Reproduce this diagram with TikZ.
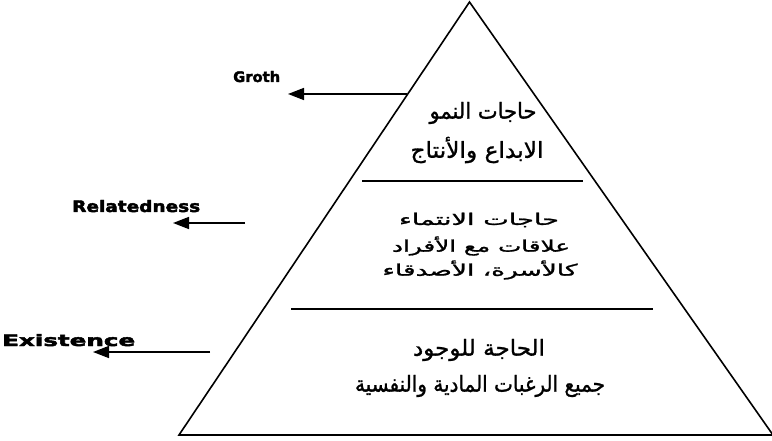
\documentclass[tikz,border=0pt]{standalone}
\usepackage{fontspec}
\setmainfont{DejaVu Sans}
\newfontfamily\arabicfont[Script=Arabic,FakeBold=1.2]{DejaVu Sans}
\newfontfamily\heavyfont[FakeBold=2.5]{DejaVu Sans Bold}
\TeXXeTstate=1
\usetikzlibrary{arrows.meta}
\newcommand{\arsize}[1]{\fontsize{#1}{#1}\arabicfont}
\newcommand{\fitw}[2]{\resizebox{#1pt}{\height}{#2}}
\newcommand{\fitwh}[3]{\resizebox{#1pt}{#2pt}{#3}}
\begin{document}
\begin{tikzpicture}[x=1pt,y=-1pt,
  edge/.style={line width=1.6pt,line join=miter},
  divider/.style={line width=1.5pt},
  arr/.style={line width=1.6pt,-{Triangle[length=16pt,width=12pt]}},
  lab/.style={inner sep=0pt,font=\heavyfont},
  artxt/.style={inner sep=0pt}]
\useasboundingbox (0,0) rectangle (772,441);
\fill[white] (0,0) rectangle (772,441);
% pyramid
\coordinate (A) at (469.5,2);
\coordinate (BL) at (179,435);
\coordinate (BR) at (773,435);
\draw[edge] (A) -- (BL) -- (BR) -- cycle;
% dividers
\coordinate (d1l) at (362,181);
\coordinate (d1r) at (583,181);
\coordinate (d2l) at (291,309);
\coordinate (d2r) at (653,309);
\draw[divider] (d1l) -- (d1r);
\draw[divider] (d2l) -- (d2r);
% top level
\node[artxt] (t1) at (483,113) {\fitw{107}{\arsize{22}\beginR حاجات النمو\endR}};
\node[artxt] (t2) at (477,150) {\fitw{133}{\arsize{22}\beginR الابداع والأنتاج\endR}};
% middle level
\node[artxt] (m1) at (479,220) {\fitw{160}{\arsize{16}\beginR حاجات الانتماء\endR}};
\node[artxt] (m2) at (481,246) {\fitw{178}{\arsize{16}\beginR علاقات مع الأفراد\endR}};
\node[artxt] (m3) at (480,270) {\fitw{195}{\arsize{16}\beginR كالأسرة، الأصدقاء\endR}};
% bottom level
\node[artxt] (b1) at (479,350) {\fitw{132}{\arsize{22}\beginR الحاجة للوجود\endR}};
\node[artxt] (b2) at (480,386) {\fitw{250}{\arsize{22}\beginR جميع الرغبات المادية والنفسية\endR}};
% labels
\node[lab,anchor=base west] (groth) at (233,82) {\fitwh{47}{11}{Groth}};
\node[lab,anchor=base west] (rel) at (72,212) {\fitwh{128}{12}{Relatedness}};
\node[lab,anchor=base west] (exi) at (2,346) {\fitwh{133}{12}{Existence}};
% arrows
\coordinate (gtail) at (407,94);
\coordinate (gtip) at (288,94);
\coordinate (rtail) at (245,223);
\coordinate (rtip) at (173,223);
\coordinate (etail) at (210,352);
\coordinate (etip) at (93,352);
\draw[arr] (gtail) -- (gtip);
\draw[arr] (rtail) -- (rtip);
\draw[arr] (etail) -- (etip);
\end{tikzpicture}
\end{document}
